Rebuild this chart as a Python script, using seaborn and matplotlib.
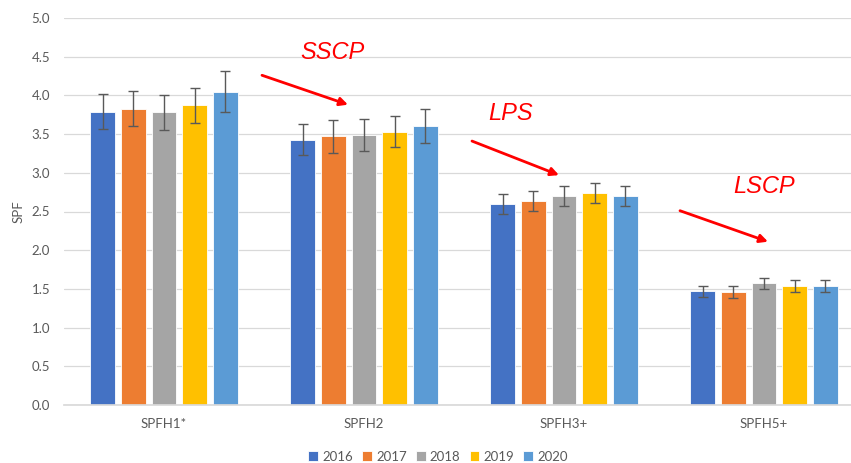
import matplotlib
matplotlib.use("Agg")
import matplotlib.pyplot as plt
import seaborn as sns
import pandas as pd
import numpy as np

categories = ["SPFH1*", "SPFH2", "SPFH3+", "SPFH5+"]
years = ["2016", "2017", "2018", "2019", "2020"]
values = {
    "2016": [3.79, 3.43, 2.60, 1.47],
    "2017": [3.83, 3.47, 2.64, 1.46],
    "2018": [3.78, 3.49, 2.70, 1.57],
    "2019": [3.87, 3.53, 2.74, 1.54],
    "2020": [4.05, 3.61, 2.70, 1.54],
}
errors = {
    "2016": [0.23, 0.20, 0.13, 0.07],
    "2017": [0.23, 0.21, 0.13, 0.075],
    "2018": [0.23, 0.21, 0.13, 0.075],
    "2019": [0.23, 0.20, 0.13, 0.075],
    "2020": [0.26, 0.22, 0.13, 0.08],
}
colors = ["#4472C4", "#ED7D31", "#A5A5A5", "#FFC000", "#5B9BD5"]
annotations = [
    ("SSCP", (0.84, 4.56), (0.49, 4.26), (0.92, 3.88)),
    ("LPS", (1.735, 3.77), (1.54, 3.41), (1.975, 2.97)),
    ("LSCP", (3.0, 2.82), (2.58, 2.51), (3.02, 2.11)),
]

rows = []
for y in years:
    for c, v, e in zip(categories, values[y], errors[y]):
        rows.append({"cat": c, "year": y, "val": v, "err": e})
df = pd.DataFrame(rows)

sns.set_theme(style="white")
plt.rcParams['font.family'] = ['Lato', 'DejaVu Sans']

fig = plt.figure(figsize=(8.51, 4.63), dpi=100)
ax = fig.add_axes([64/851, 58/463, 800/851, 387/463])

sns.barplot(data=df, x="cat", y="val", hue="year", order=categories,
            hue_order=years, palette=colors, width=0.768, gap=0.2,
            errorbar=None, ax=ax, edgecolor="white", linewidth=0.6,
            saturation=1)

for cont, y in zip(ax.containers, years):
    xs = [b.get_x() + b.get_width() / 2 for b in cont]
    hs = [b.get_height() for b in cont]
    ax.errorbar(xs, hs, yerr=errors[y], fmt="none", ecolor="#595959",
                elinewidth=1, capsize=3.5, capthick=1, zorder=5)

ax.set_ylim(0, 5)
ax.set_xlim(-0.5, 3.5)
ax.set_yticks(np.arange(0, 5.01, 0.5))
ax.set_yticklabels([f"{t:.1f}" for t in np.arange(0, 5.01, 0.5)])
ax.yaxis.grid(True, color="#D9D9D9", linewidth=0.9)
ax.set_axisbelow(True)
for s in ["top", "right", "left"]:
    ax.spines[s].set_visible(False)
ax.spines["bottom"].set_color("#D9D9D9")
ax.tick_params(axis="y", length=0, labelsize=9.5, labelcolor="#595959", pad=10)
ax.tick_params(axis="x", length=0, labelsize=9.5, labelcolor="#595959", pad=9)
ax.set_xlabel("")
ax.set_ylabel("SPF", fontsize=9.5, color="#595959", labelpad=5)

for txt, tpos, a0, a1 in annotations:
    ax.text(tpos[0], tpos[1], txt, color="#FF0000", fontsize=17,
            fontstyle="italic", family=["Liberation Sans", "DejaVu Sans"],
            ha="center", va="center")
    ax.annotate("", xy=a1, xytext=a0,
                arrowprops=dict(arrowstyle="-|>", color="#FF0000", lw=2,
                                mutation_scale=12, shrinkA=0, shrinkB=0))

ax.legend(loc="lower center", bbox_to_anchor=(438/851, -0.025),
          bbox_transform=fig.transFigure, ncol=5,
          frameon=False, fontsize=9.5, handlelength=0.75, handleheight=0.75,
          handletextpad=0.3, columnspacing=0.7, labelcolor="#595959")

fig.savefig("out.png", dpi=100)
